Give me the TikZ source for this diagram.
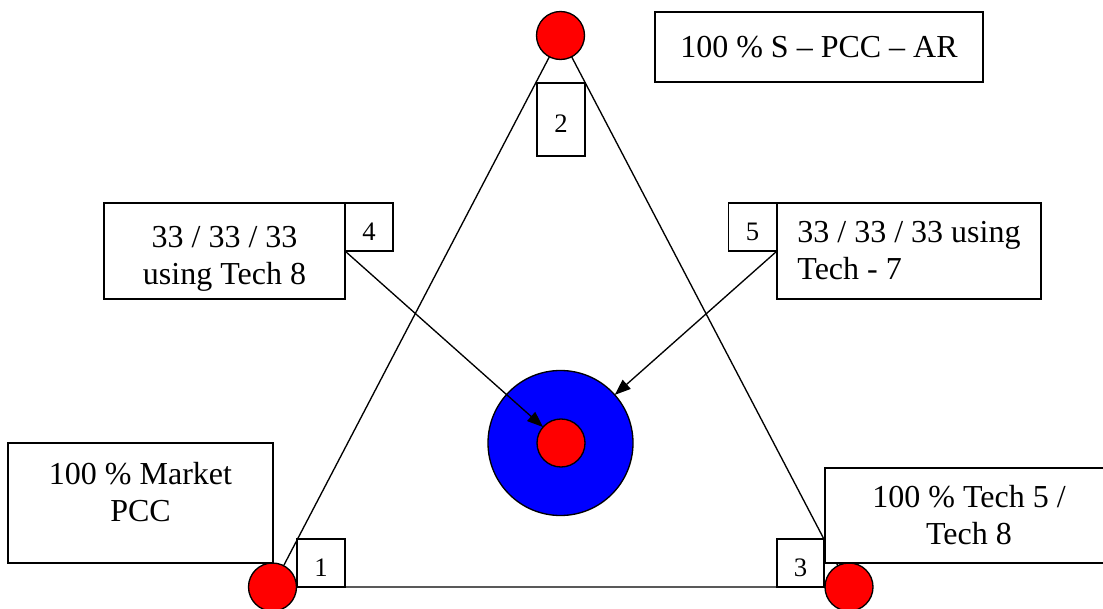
\documentclass[tikz,border=0pt]{standalone}
\usepackage{fontspec}
\setmainfont{Liberation Serif}
\usepackage{xcolor}
\usepackage{tikz}
\usetikzlibrary{arrows.meta,backgrounds}
\colorlet{trired}{red}
\colorlet{triblue}{blue}
\tikzset{
  tristage/.style={
    draw,
    fill=white,
    line width=1pt,
    align=center,
    inner sep=2pt,
    outer sep=0pt
  },
  trinote/.style={tristage,font=\fontsize{24}{27.75}\selectfont},
  trinum/.style={tristage,minimum width=36pt,minimum height=36pt,
                 text height=20pt,text depth=0pt,
                 font=\fontsize{20}{22}\selectfont},
  tridot/.style={circle,draw,line width=1pt,fill=trired,
                 minimum size=36pt,inner sep=0pt,outer sep=0pt},
  triring/.style={circle,draw,line width=1pt,fill=triblue,
                  minimum size=108.75pt,inner sep=0pt,outer sep=0pt},
  triflow/.style={-{Triangle[length=12pt,width=9pt]},line width=1pt},
  triedge/.style={line width=1pt}
}

\begin{document}
\begin{tikzpicture}[x=0.75pt,y=-0.75pt]
  \clip (0,0) rectangle (1103,609);

  \node[tridot] (topdot) at (560.5,35.5) {};
  \node[tridot] (leftdot) at (272.5,587) {};
  \node[tridot] (rightdot) at (849,587) {};

  \node[trinote,minimum width=246pt,minimum height=52.5pt] (spccar) at (819,47)
    {100 \% S -- PCC -- AR};
  \node[trinum,minimum height=54.75pt] (numtwo) at (561,119.5) {2};

  \node[trinote,minimum width=180.75pt,minimum height=72pt,text height=51pt,text depth=0pt]
    (techeight) at (224.5,251) {33 / 33 / 33\\using Tech 8};
  \node[trinum] (numfour) at (369,227) {4};
  \node[trinum] (numfive) at (752.5,227) {5};
  \node[trinote,align=left,minimum width=198pt,minimum height=72pt] (techseven) at (909,251)
    {33 / 33 / 33 using\\Tech - 7};

  \node[trinote,minimum width=198.75pt,minimum height=90pt,text depth=17pt] (marketpcc)
    at (140.5,503) {100 \% Market\\PCC};
  \node[trinum] (numone) at (321,563) {1};
  \node[trinum,minimum width=35.25pt] (numthree) at (800.5,563) {3};
  \node[trinote,minimum width=216pt,minimum height=71.25pt] (techfive) at (969,515.5)
    {100 \% Tech 5 /\\Tech 8};

  \node[triring] (ring) at (560.5,443) {};
  \node[tridot] (hub) at (561,443) {};

  \begin{scope}[on background layer]
    \fill[white] (0,0) rectangle (1103,609);
    \draw[triedge] (topdot.center) -- (leftdot.center) -- (rightdot.center) -- cycle;
  \end{scope}

  \draw[triflow] (techeight.east) -- (hub);
  \draw[triflow] (techseven.west) -- (ring);
\end{tikzpicture}
\end{document}
